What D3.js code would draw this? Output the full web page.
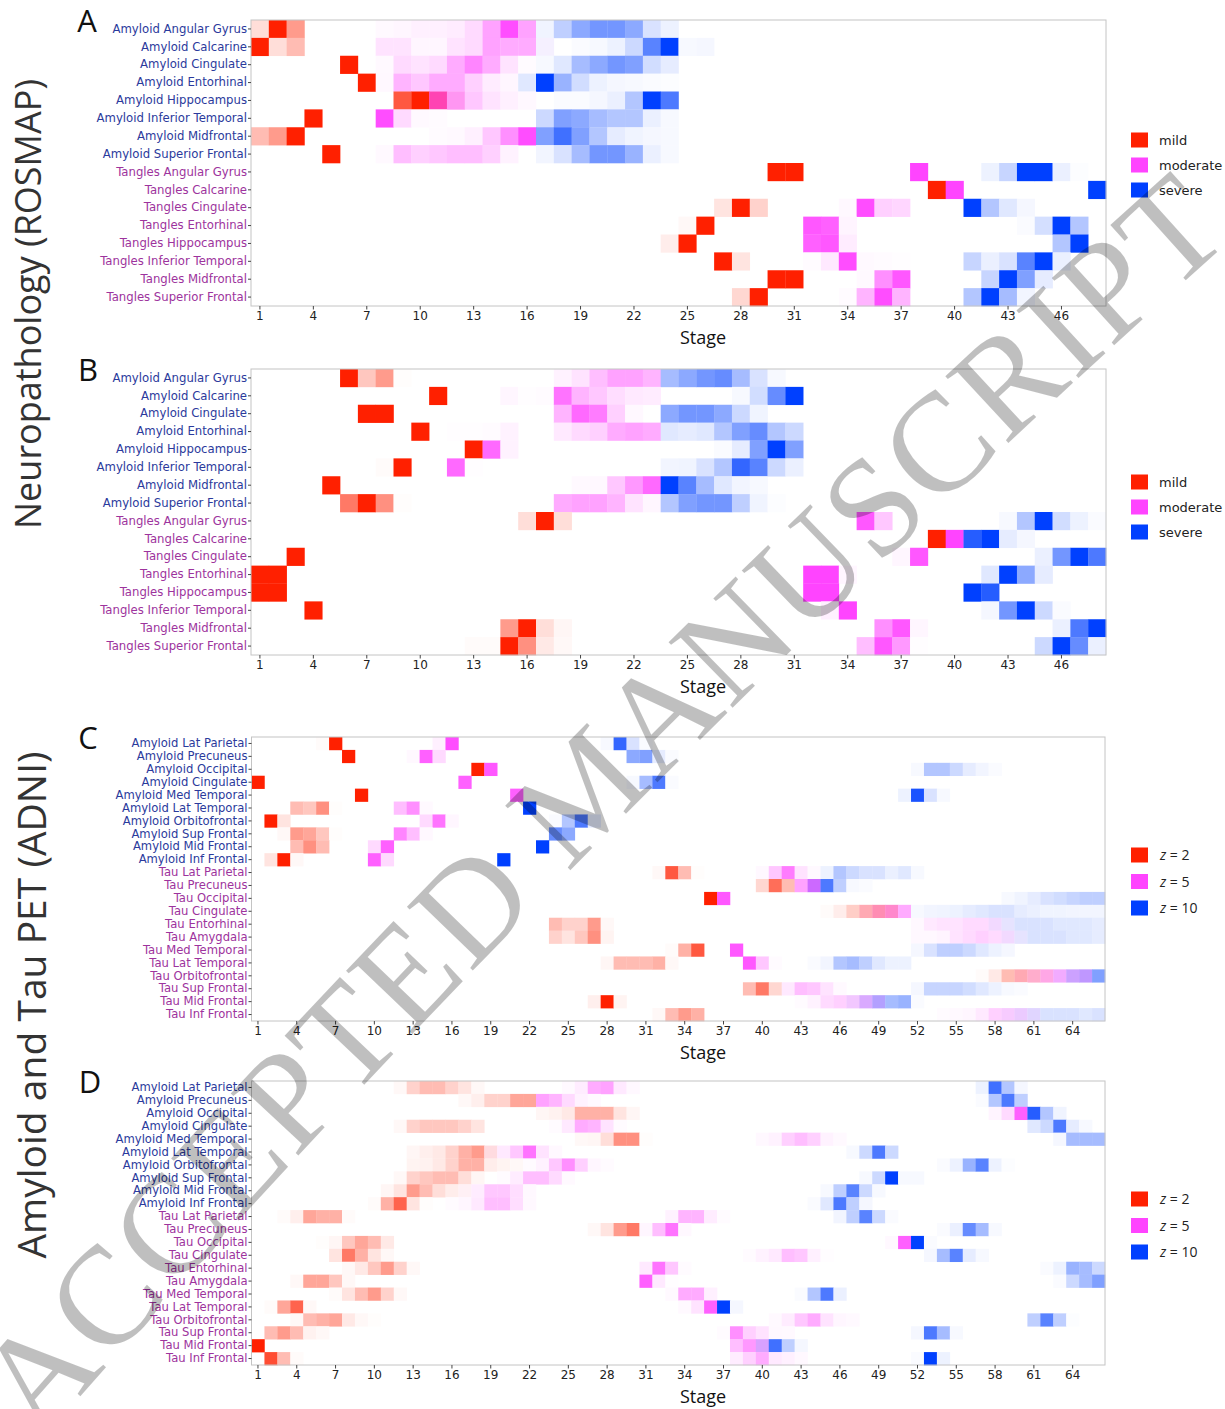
<!DOCTYPE html>
<html>
<head>
<meta charset="utf-8">
<script src="https://cdn.jsdelivr.net/npm/d3@7"></script>
<style>
  body { margin: 0; background: #fff; }
  svg text { font-family: "DejaVu Sans", sans-serif; }
</style>
</head>
<body>
<div id="drawing_region"></div>
<script>
// row labels
const rosmapRows = ["Amyloid Angular Gyrus", "Amyloid Calcarine", "Amyloid Cingulate", "Amyloid Entorhinal",
  "Amyloid Hippocampus", "Amyloid Inferior Temporal", "Amyloid Midfrontal", "Amyloid Superior Frontal",
  "Tangles Angular Gyrus", "Tangles Calcarine", "Tangles Cingulate", "Tangles Entorhinal",
  "Tangles Hippocampus", "Tangles Inferior Temporal", "Tangles Midfrontal", "Tangles Superior Frontal"];
const adniRows = ["Amyloid Lat Parietal", "Amyloid Precuneus", "Amyloid Occipital", "Amyloid Cingulate",
  "Amyloid Med Temporal", "Amyloid Lat Temporal", "Amyloid Orbitofrontal", "Amyloid Sup Frontal",
  "Amyloid Mid Frontal", "Amyloid Inf Frontal", "Tau Lat Parietal", "Tau Precuneus", "Tau Occipital",
  "Tau Cingulate", "Tau Entorhinal", "Tau Amygdala", "Tau Med Temporal", "Tau Lat Temporal",
  "Tau Orbitofrontal", "Tau Sup Frontal", "Tau Mid Frontal", "Tau Inf Frontal"];

const rosmapLevels = ["mild", "moderate", "severe"];
const adniLevels = ["2", "5", "10"];
const rosmapStages = 48;
const adniStages = 66;
const rosmapTicks = d3.range(1, 47, 3);
const adniTicks = d3.range(1, 65, 3);

// probability (percent) per row: [first stage, p, p, ...]
const panelA_mild = [
  [[1, 15, 100, 45]], [[1, 100, 15, 30]], [[6, 100]], [[7, 100]],
  [[9, 75, 100, 30, 5]], [[4, 100]], [[1, 30, 45, 100]], [[5, 100]],
  [[30, 100, 100]], [[39, 100]], [[27, 12, 100, 20]], [[25, 3, 100]],
  [[24, 8, 100]], [[27, 100, 12]], [[30, 100, 100]], [[28, 18, 100]]
];
const panelA_moderate = [
  [[8, 3, 5, 8, 8, 10, 20, 50, 95, 50]], [[8, 15, 15, 5, 5, 15, 20, 50, 45, 45, 4]],
  [[8, 3, 20, 15, 20, 45, 65, 45, 15, 2]], [[8, 4, 40, 30, 45, 45, 25, 10, 5]],
  [[11, 65, 50, 30, 15, 8, 4]], [[8, 95, 20, 3, 2]], [[11, 2, 3, 8, 30, 60, 95]],
  [[8, 3, 35, 25, 30, 35, 35, 25, 7]],
  [[38, 100]], [[40, 100]], [[34, 4, 95, 25, 22]], [[32, 90, 85, 6]],
  [[32, 85, 90, 10]], [[32, 2, 12, 95, 3, 2, 1]], [[35, 3, 60, 90]], [[34, 2, 40, 95, 40]]
];
const panelA_severe = [
  [[17, 6, 25, 45, 55, 55, 45, 15, 7]], [[17, 4, 0, 2, 3, 7, 20, 65, 100, 3, 4]],
  [[17, 3, 12, 35, 45, 55, 50, 18, 10]], [[16, 12, 100, 40, 18, 7, 4, 3, 2, 1]],
  [[18, 2, 2, 4, 8, 30, 100, 70]], [[17, 20, 50, 45, 35, 30, 30, 8, 3]],
  [[17, 50, 75, 50, 30, 10, 6, 4, 3]], [[17, 5, 15, 35, 55, 55, 40, 8, 3]],
  [[42, 7, 22, 100, 100, 8, 1]], [[48, 100]], [[41, 100, 30, 12, 4]], [[44, 2, 17, 100, 30]],
  [[46, 30, 100]], [[41, 22, 8, 15, 65, 100, 8]], [[42, 22, 100, 50, 10]], [[41, 30, 100, 35, 5]]
];

const panelB_mild = [
  [[6, 100, 25, 45, 1]], [[11, 100]], [[7, 100, 100]], [[10, 100]],
  [[13, 100]], [[8, 2, 100]], [[5, 100]], [[6, 60, 100, 50, 1]],
  [[16, 15, 100, 15]], [[39, 100]], [[3, 100]], [[1, 100, 100]],
  [[1, 100, 100]], [[4, 100]], [[15, 45, 100, 15, 4]], [[13, 2, 2, 100, 50, 10, 3]]
];
const panelB_moderate = [
  [[18, 7, 15, 35, 50, 50, 40]], [[15, 5, 1, 2, 75, 40, 30, 18, 12, 10]],
  [[18, 40, 80, 70, 25, 4]], [[12, 1, 1, 2, 7, 0, 0, 12, 20, 25, 45, 50, 45]],
  [[14, 80, 7]], [[12, 80, 1]], [[19, 3, 4, 30, 55, 80]], [[18, 45, 50, 50, 40, 15, 5]],
  [[35, 90, 30]], [[40, 100]], [[37, 5, 90]], [[32, 100, 100, 5]],
  [[32, 100, 100]], [[33, 8, 100]], [[36, 60, 90, 5]], [[35, 35, 90, 55, 1]]
];
const panelB_severe = [
  [[24, 35, 45, 55, 60, 35, 15, 3]], [[28, 3, 18, 60, 100]],
  [[24, 45, 55, 55, 45, 20, 6]], [[24, 12, 10, 12, 30, 50, 60, 30, 20]],
  [[27, 2, 10, 50, 100, 50]], [[24, 5, 6, 15, 30, 80, 65, 20, 8]],
  [[24, 100, 65, 35, 12, 5, 3]], [[24, 30, 50, 55, 55, 25, 6, 1]],
  [[43, 3, 30, 100, 18, 7, 2]], [[41, 85, 100, 10, 4]], [[45, 8, 55, 100, 70]], [[42, 12, 100, 45, 10]],
  [[41, 100, 85]], [[42, 4, 55, 100, 20, 2]], [[46, 8, 70, 100]], [[45, 20, 100, 60, 8]]
];

const panelC_z2 = [
  [[6, 2, 100]], [[8, 100]], [[18, 100]], [[1, 100]], [[9, 100]],
  [[4, 30, 25, 50, 1]], [[2, 100, 12]], [[3, 3, 45, 40, 25, 1]], [[4, 30, 50, 30]], [[2, 12, 100, 3]],
  [[32, 3, 75, 30, 1]], [[40, 18, 65, 30]], [[36, 100]], [[45, 2, 8, 22, 30, 30, 20]],
  [[24, 30, 20, 20, 45, 3]], [[24, 20, 12, 25, 50, 5]], [[33, 2, 35, 75]],
  [[28, 4, 30, 30, 30, 35, 3]], [[57, 2, 10, 30, 30, 20, 10]], [[39, 30, 60, 18]],
  [[27, 7, 100, 5]], [[32, 3, 30, 45, 35]]
];
const panelC_z5 = [
  [[15, 8, 95]], [[13, 4, 85, 20]], [[19, 90]], [[17, 85]], [[21, 85]],
  [[12, 35, 60, 3]], [[14, 20, 75, 5]], [[12, 65, 35, 4]], [[10, 20, 85]], [[10, 85, 20]],
  [[40, 4, 30, 70, 15, 3]], [[43, 50, 60]], [[37, 90]], [[48, 10, 25, 40, 45]],
  [[52, 4, 12, 15, 15, 20, 20, 15, 5]], [[52, 4, 4, 6, 15, 20, 25, 20, 15, 5]], [[38, 90]],
  [[39, 90, 30, 2]], [[60, 10, 20, 35, 40, 30, 30]], [[42, 12, 35, 30, 15, 3]],
  [[43, 2, 7, 20, 25, 25, 30, 20]], [[54, 2, 3, 5, 12, 25, 25, 20, 10]]
];
const panelC_z10 = [
  [[28, 3, 80, 15, 2]], [[30, 45, 50, 10, 2]], [[52, 3, 30, 30, 20, 10, 5, 2]], [[30, 3, 35, 70, 2]],
  [[51, 7, 90, 15, 3]], [[22, 100]], [[24, 2, 30, 70, 10]], [[24, 60, 45]], [[23, 100]], [[20, 100]],
  [[45, 7, 30, 20, 15, 15, 8, 12, 3]], [[44, 20, 70, 25, 3, 2]], [[59, 3, 6, 10, 15, 18, 22, 25, 25]],
  [[52, 3, 5, 6, 7, 10, 12, 15, 15, 10, 8, 6, 6, 5, 5, 5]], [[58, 5, 10, 15, 15, 15, 12, 12, 12, 10]],
  [[59, 5, 10, 15, 15, 15, 12, 12, 10]], [[52, 4, 15, 25, 25, 20, 12, 7, 4]],
  [[44, 2, 5, 30, 35, 25, 12, 7, 7]], [[63, 5, 20, 25, 50]], [[52, 4, 22, 22, 22, 18, 12, 7, 3, 2]],
  [[47, 5, 15, 30, 35, 40, 2]], [[59, 3, 8, 12, 15, 15, 15, 12, 15]]
];

const panelD_z2 = [
  [[12, 3, 20, 30, 30, 20, 12, 3]], [[17, 3, 7, 20, 20, 40, 40]], [[23, 4, 6, 10, 35, 35, 35, 12, 4]],
  [[12, 3, 20, 25, 25, 25, 20, 12]], [[26, 3, 4, 15, 50, 50, 1]], [[13, 4, 7, 10, 20, 35, 45, 12]],
  [[13, 5, 6, 10, 20, 35, 35, 8, 5, 3]], [[12, 3, 20, 25, 30, 30, 15, 4]], [[11, 4, 12, 45, 30, 15, 8, 4]],
  [[10, 2, 35, 70, 12, 1]], [[3, 2, 7, 40, 35, 35, 2]], [[27, 3, 12, 45, 60]], [[6, 1, 4, 25, 40, 30, 10]],
  [[7, 12, 60, 35, 12, 3]], [[8, 3, 10, 25, 45, 20, 3]], [[4, 3, 40, 40, 25, 3]], [[7, 2, 12, 30, 45, 20, 3]],
  [[2, 2, 40, 70, 3]], [[4, 3, 30, 35, 40, 10, 3, 1]], [[2, 30, 45, 30, 6, 3]], [[1, 100]], [[2, 80, 30, 2]]
];
const panelD_z5 = [
  [[25, 3, 10, 45, 50, 12, 4]], [[23, 50, 40, 20, 7, 3]], [[58, 6, 20, 85]], [[24, 2, 12, 45, 40, 15, 2]],
  [[40, 4, 7, 25, 35, 25, 7, 3]], [[19, 5, 12, 30, 75, 15, 4]], [[22, 2, 7, 30, 60, 25, 5, 2]],
  [[20, 2, 10, 35, 35, 20, 3]], [[17, 3, 10, 30, 30, 18, 4]], [[16, 2, 5, 12, 35, 35, 18, 4]],
  [[33, 7, 40, 40, 10, 2]], [[31, 5, 35, 75, 4]], [[50, 4, 85]], [[39, 2, 7, 12, 35, 30, 8, 1]],
  [[31, 12, 75, 30, 2]], [[31, 85, 12, 1]], [[33, 3, 45, 45, 8]], [[34, 3, 15, 85]],
  [[41, 3, 10, 30, 45, 15, 5, 3]], [[37, 2, 60, 25, 15, 4, 3]], [[38, 35, 55, 35]], [[38, 10, 25, 45, 12, 8, 4]]
];
const panelD_z10 = [
  [[57, 7, 75, 30, 4]], [[57, 2, 30, 70, 25]], [[61, 85, 30, 6]], [[61, 12, 20, 70, 10, 3]],
  [[63, 4, 35, 35, 35]], [[47, 3, 20, 70, 20]], [[54, 2, 7, 40, 65, 7, 1]], [[48, 3, 20, 100, 3, 3]],
  [[45, 3, 25, 65, 20, 3]], [[44, 2, 12, 70, 25, 4]], [[46, 5, 25, 65, 20, 2]], [[54, 2, 8, 60, 35, 3]],
  [[52, 100, 2]], [[53, 4, 35, 65, 10, 3]], [[62, 2, 7, 40, 35, 20]], [[63, 2, 20, 35, 50]],
  [[43, 2, 30, 70, 8]], [[37, 100, 4]], [[61, 25, 65, 25, 1]], [[52, 4, 70, 35, 3]],
  [[40, 15, 75, 25, 4]], [[52, 2, 100, 7]]
];

const levelColours = [[255, 32, 0], [255, 68, 255], [0, 64, 255]];

const svg = d3.select('#drawing_region')
  .append('svg')
  .attr('width', 1225)
  .attr('height', 1409);

class StageMap {
  constructor(svg, config) {
    this.svg = svg;
    this.config = config;
  }

  mix(p) {
    const rgb = [0, 1, 2].map(ch =>
      Math.max(0, 255 - d3.sum(levelColours, (c, k) => p[k] * (255 - c[ch]))));
    return d3.rgb(rgb[0], rgb[1], rgb[2]).formatHex();
  }

  render() {
    let self = this;
    const c = self.config;
    const g = self.svg.append('g');

    const x = d3.scaleBand().domain(d3.range(1, c.nStages + 1)).range([c.left, c.right]);
    const y = d3.scaleBand().domain(c.rows).range([c.top, c.bottom]);

    const cells = [];
    c.rows.forEach((row, i) => {
      const p = d3.range(c.nStages).map(() => [0, 0, 0]);
      c.data.forEach((lvl, k) => {
        lvl[i].forEach(seg => {
          seg.slice(1).forEach((v, j) => { p[seg[0] - 1 + j][k] = v / 100; });
        });
      });
      p.forEach((pp, s) => {
        if (d3.sum(pp) > 0) cells.push({ row: row, stage: s + 1, p: pp });
      });
    });

    g.selectAll('rect.cell')
      .data(cells)
      .enter()
      .append('rect')
      .attr('class', 'cell')
      .attr('x', d => x(d.stage))
      .attr('y', d => y(d.row))
      .attr('width', x.bandwidth() + 0.3)
      .attr('height', y.bandwidth() + 0.3)
      .attr('fill', d => self.mix(d.p));

    g.append('rect')
      .attr('x', c.left).attr('y', c.top)
      .attr('width', c.right - c.left).attr('height', c.bottom - c.top)
      .attr('fill', 'none').attr('stroke', '#c4c4c4').attr('stroke-width', 1);

    const xAxis = g.append('g')
      .attr('transform', `translate(0,${c.bottom})`)
      .call(d3.axisBottom(x).tickValues(c.ticks).tickSize(3.5).tickPadding(2));
    xAxis.select('.domain').remove();
    xAxis.selectAll('line').attr('stroke', '#444');
    xAxis.selectAll('text').attr('font-size', 12).attr('fill', '#222')
      .attr('font-family', '"DejaVu Sans", sans-serif');

    const yAxis = g.append('g')
      .attr('transform', `translate(${c.left},0)`)
      .call(d3.axisLeft(y).tickSize(3).tickPadding(1));
    yAxis.select('.domain').remove();
    yAxis.selectAll('line').attr('stroke', '#444');
    yAxis.selectAll('text').attr('font-size', c.labelSize)
      .attr('font-family', '"DejaVu Sans", sans-serif')
      .attr('fill', d => d.startsWith('Amyloid') ? '#2b3a9c' : '#9d339d');

    g.append('text')
      .attr('x', 703).attr('y', c.bottom + 38)
      .attr('text-anchor', 'middle')
      .style('font-family', '"Open Sans", sans-serif')
      .attr('font-size', 18).attr('fill', '#111')
      .text('Stage');

    g.append('text')
      .attr('x', c.letterX).attr('y', c.top + 12)
      .attr('text-anchor', 'middle')
      .style('font-family', '"Open Sans", sans-serif')
      .attr('font-size', 31).attr('fill', '#111')
      .text(c.letter);

    const leg = g.append('g').selectAll('g')
      .data(c.legend)
      .enter()
      .append('g')
      .attr('transform', (d, i) => `translate(1131,${c.legendY + i * c.legendStep})`);
    leg.append('rect')
      .attr('x', 0).attr('y', -7.5).attr('width', 17).attr('height', 15)
      .attr('fill', (d, i) => d3.rgb(...levelColours[i]).formatHex());
    if (c.zLegend) {
      const t = leg.append('text')
        .attr('x', 29).attr('y', 5)
        .style('font-family', '"Open Sans", sans-serif')
        .attr('font-size', 14).attr('fill', '#222');
      t.append('tspan').attr('font-style', 'italic').text('z');
      t.append('tspan').text(d => ' = ' + d);
    } else {
      leg.append('text')
        .attr('x', 28).attr('y', 5)
        .attr('font-size', 13).attr('fill', '#222')
        .text(d => d);
    }
  }
}

const panels = [
  { letter: 'A', top: 20, bottom: 306, left: 251, right: 1106, nStages: rosmapStages, ticks: rosmapTicks,
    rows: rosmapRows, data: [panelA_mild, panelA_moderate, panelA_severe], labelSize: 11.7,
    letterX: 87, legend: rosmapLevels, legendY: 140, legendStep: 25, zLegend: false },
  { letter: 'B', top: 369, bottom: 655, left: 251, right: 1106, nStages: rosmapStages, ticks: rosmapTicks,
    rows: rosmapRows, data: [panelB_mild, panelB_moderate, panelB_severe], labelSize: 11.7,
    letterX: 88, legend: rosmapLevels, legendY: 482, legendStep: 25, zLegend: false },
  { letter: 'C', top: 737, bottom: 1021, left: 251.5, right: 1105, nStages: adniStages, ticks: adniTicks,
    rows: adniRows, data: [panelC_z2, panelC_z5, panelC_z10], labelSize: 11.6,
    letterX: 88, legend: adniLevels, legendY: 855, legendStep: 26.5, zLegend: true },
  { letter: 'D', top: 1081, bottom: 1365, left: 251.5, right: 1105, nStages: adniStages, ticks: adniTicks,
    rows: adniRows, data: [panelD_z2, panelD_z5, panelD_z10], labelSize: 11.6,
    letterX: 90, legend: adniLevels, legendY: 1199, legendStep: 26.5, zLegend: true }
];
panels.forEach(p => new StageMap(svg, p).render());

// section titles
[['Neuropathology (ROSMAP)', 28, 304, 36], ['Amyloid and Tau PET (ADNI)', 32, 1005, 39]].forEach(t => {
  svg.append('text')
    .attr('transform', `translate(${t[1]},${t[2]}) rotate(-90)`)
    .attr('text-anchor', 'middle')
    .attr('dy', '0.35em')
    .style('font-family', '"Open Sans", sans-serif')
    .attr('font-size', t[3]).attr('fill', '#333')
    .text(t[0]);
});

// watermark
svg.append('defs').append('path')
  .attr('id', 'wm')
  .attr('d', 'M 20,1465 Q 600,800 1270,205');
svg.append('text')
  .style('font-family', '"Liberation Serif", serif')
  .attr('font-size', 140)
  .attr('letter-spacing', 2)
  .attr('fill', '#000').attr('fill-opacity', 0.25)
  .append('textPath')
  .attr('href', '#wm')
  .attr('startOffset', 30)
  .text('ACCEPTED MANUSCRIPT');
</script>
</body>
</html>
